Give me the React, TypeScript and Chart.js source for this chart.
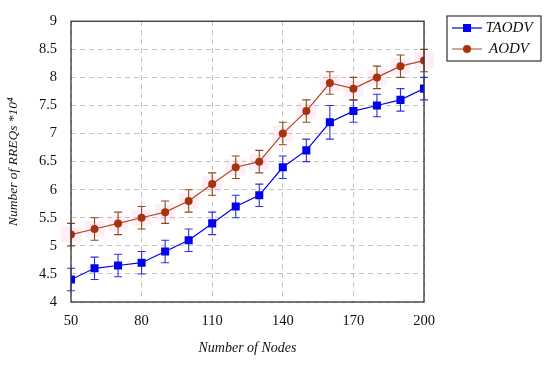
import React, { useEffect, useRef } from "react";
import { Chart, registerables } from "chart.js";

Chart.register(...registerables);

const nodes = [50, 60, 70, 80, 90, 100, 110, 120, 130, 140, 150, 160, 170, 180, 190, 200];
const taodv = [4.4, 4.6, 4.65, 4.7, 4.9, 5.1, 5.4, 5.7, 5.9, 6.4, 6.7, 7.2, 7.4, 7.5, 7.6, 7.8];
const taodvErr = [0.2, 0.2, 0.2, 0.2, 0.2, 0.2, 0.2, 0.2, 0.2, 0.2, 0.2, 0.3, 0.2, 0.2, 0.2, 0.2];
const aodv = [5.2, 5.3, 5.4, 5.5, 5.6, 5.8, 6.1, 6.4, 6.5, 7.0, 7.4, 7.9, 7.8, 8.0, 8.2, 8.3];
const aodvErr = [0.2, 0.2, 0.2, 0.2, 0.2, 0.2, 0.2, 0.2, 0.2, 0.2, 0.2, 0.2, 0.2, 0.2, 0.2, 0.2];
const seriesNames = ["TAODV", "AODV"];
const xTitle = "Number of Nodes";
const yTitle = "Number of RREQs *10\u2074";

const FONT = "'Liberation Serif', 'Times New Roman', serif";
const BLUE = "#0000ee";
const BROWN = "#a8320c";
const ERR_BROWN = "#8b4a20";

const errorBarPlugin = {
  id: "errorBars",
  beforeDatasetsDraw(chart: any) {
    const ctx = chart.ctx;
    const xs = chart.scales.x;
    const ys = chart.scales.y;
    ctx.save();
    ctx.fillStyle = "rgba(255,150,200,0.16)";
    aodv.forEach((v, i) => {
      const px = xs.getPixelForValue(nodes[i]);
      const py = ys.getPixelForValue(v);
      ctx.fillRect(px - 10, py - 8, 20, 16);
    });
    ctx.restore();
    const sets = [
      { vals: taodv, errs: taodvErr, color: "#3030e0" },
      { vals: aodv, errs: aodvErr, color: ERR_BROWN },
    ];
    ctx.save();
    ctx.lineWidth = 1.1;
    sets.forEach((s) => {
      ctx.strokeStyle = s.color;
      s.vals.forEach((v, i) => {
        const px = xs.getPixelForValue(nodes[i]);
        const top = ys.getPixelForValue(v + s.errs[i]);
        const bot = ys.getPixelForValue(v - s.errs[i]);
        ctx.beginPath();
        ctx.moveTo(px, top);
        ctx.lineTo(px, bot);
        ctx.moveTo(px - 4, top);
        ctx.lineTo(px + 4, top);
        ctx.moveTo(px - 4, bot);
        ctx.lineTo(px + 4, bot);
        ctx.stroke();
      });
    });
    ctx.restore();
  },
  afterDatasetsDraw(chart: any) {
    const ctx = chart.ctx;
    const a = chart.chartArea;
    ctx.save();
    ctx.strokeStyle = "#333";
    ctx.lineWidth = 1.3;
    ctx.strokeRect(a.left, a.top, a.right - a.left, a.bottom - a.top);
    ctx.restore();
  },
};

const legendPlugin = {
  id: "customLegend",
  afterDraw(chart: any) {
    const ctx = chart.ctx;
    const bx = 447, by = 16, bw = 94, bh = 45;
    ctx.save();
    ctx.fillStyle = "#fff";
    ctx.fillRect(bx, by, bw, bh);
    ctx.strokeStyle = "#333";
    ctx.lineWidth = 1.2;
    ctx.strokeRect(bx, by, bw, bh);
    const rows = [
      { name: seriesNames[0], color: BLUE, line: BLUE, shape: "rect", y: by + 12 },
      { name: seriesNames[1], color: BROWN, line: "#b06a40", shape: "circle", y: by + 33 },
    ];
    rows.forEach((r) => {
      ctx.strokeStyle = r.line;
      ctx.lineWidth = 1.2;
      ctx.beginPath();
      ctx.moveTo(bx + 5, r.y);
      ctx.lineTo(bx + 35, r.y);
      ctx.stroke();
      ctx.fillStyle = r.color;
      if (r.shape === "rect") {
        ctx.fillRect(bx + 20 - 4, r.y - 4, 8, 8);
      } else {
        ctx.beginPath();
        ctx.arc(bx + 20, r.y, 4, 0, Math.PI * 2);
        ctx.fill();
      }
      ctx.fillStyle = "#111";
      ctx.font = "italic 15px " + FONT;
      ctx.textAlign = "center";
      ctx.textBaseline = "middle";
      ctx.fillText(r.name, bx + 62, r.y);
    });
    ctx.restore();
  },
};

export default function App() {
  const ref = useRef<HTMLCanvasElement | null>(null);
  useEffect(() => {
    if (!ref.current) return;
    const chart = new Chart(ref.current, {
      type: "line",
      data: {
        labels: nodes,
        datasets: [
          {
            label: seriesNames[0],
            data: nodes.map((x, i) => ({ x, y: taodv[i] })),
            borderColor: BLUE,
            backgroundColor: BLUE,
            borderWidth: 1.2,
            pointStyle: "rect",
            pointRadius: 5.7,
            pointBorderWidth: 0,
            tension: 0,
          },
          {
            label: seriesNames[1],
            data: nodes.map((x, i) => ({ x, y: aodv[i] })),
            borderColor: "#b04a25",
            backgroundColor: BROWN,
            borderWidth: 1.2,
            pointStyle: "circle",
            pointRadius: 4,
            pointBorderWidth: 0,
            tension: 0,
          },
        ],
      },
      options: {
        animation: false,
        responsive: false,
        maintainAspectRatio: false,
        layout: { padding: { top: 0, right: 126, left: 0, bottom: 0 } },
        plugins: {
          legend: { display: false },
          tooltip: { enabled: false },
        },
        scales: {
          x: {
            type: "linear",
            min: 50,
            max: 200,
            afterFit: (s: any) => {
              s.height = 63;
            },
            ticks: {
              stepSize: 30,
              color: "#111",
              font: { family: FONT, size: 14.5 },
              padding: 10,
              maxRotation: 0,
            },
            grid: { color: "#c4c4c4", lineWidth: 1, drawTicks: false },
            border: { display: false, dash: [5, 4] },
            title: {
              display: true,
              text: xTitle,
              color: "#111",
              font: { family: FONT, size: 14, style: "italic" },
              padding: { top: 0, bottom: 8 },
            },
          },
          y: {
            min: 4,
            max: 9,
            afterFit: (s: any) => {
              s.width = 71;
            },
            ticks: {
              stepSize: 0.5,
              color: "#111",
              font: { family: FONT, size: 14.5, lineHeight: 1 },
              padding: 14,
              callback: (v: any) => String(Math.round(Number(v) * 10) / 10),
            },
            grid: { color: "#c4c4c4", lineWidth: 1, drawTicks: false },
            border: { display: false, dash: [5, 4] },
            title: {
              display: true,
              text: yTitle,
              color: "#111",
              font: { family: FONT, size: 13.5, style: "italic" },
              padding: { top: 5, bottom: 0 },
            },
          },
        },
      },
      plugins: [errorBarPlugin, legendPlugin],
    });
    return () => chart.destroy();
  }, []);
  return (
    <div style={{ position: "fixed", left: 0, top: 0, width: 550, height: 365, background: "#fff" }}>
      <canvas ref={ref} width={550} height={365} style={{ display: "block" }} />
    </div>
  );
}
